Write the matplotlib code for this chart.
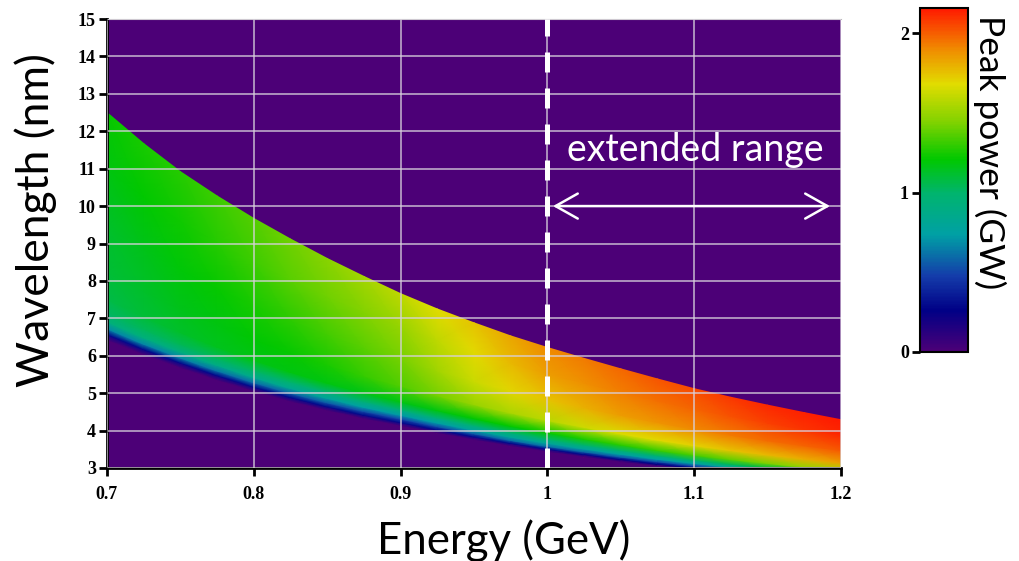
import numpy as np
import matplotlib
matplotlib.use("Agg")
import matplotlib.pyplot as plt
from matplotlib.colors import LinearSegmentedColormap

energy = [0.700, 0.725, 0.750, 0.775, 0.800, 0.825, 0.850, 0.875, 0.900, 0.925, 0.950,
          0.975, 1.000, 1.025, 1.050, 1.075, 1.100, 1.125, 1.150, 1.175, 1.200]
# upper (sharp) edge of the lasing band, nm
lam_top = [12.50, 11.67, 10.92, 10.27, 9.67, 9.12, 8.60, 8.12, 7.66, 7.25, 6.88,
           6.53, 6.22, 5.93, 5.65, 5.38, 5.12, 4.89, 4.68, 4.48, 4.29]
# lower edge where peak power falls to zero, nm
lam_zero = [6.42, 6.03, 5.68, 5.35, 5.05, 4.78, 4.54, 4.32, 4.13, 3.94, 3.76,
            3.59, 3.44, 3.30, 3.17, 3.05, 2.95, 2.86, 2.78, 2.71, 2.65]
# relative position inside the band (0 = lower edge, 1 = upper edge)
band_frac = [0, 0.025, 0.05, 0.08, 0.12, 0.18, 0.3, 0.5, 0.75, 1.0]
# peak power (GW), one row per band_frac, one column per energy
power = [
    [0.00, 0.00, 0.00, 0.00, 0.00, 0.00, 0.00, 0.00, 0.00, 0.00, 0.00,
     0.00, 0.00, 0.00, 0.00, 0.00, 0.00, 0.00, 0.00, 0.00, 0.00],
    [0.30, 0.30, 0.30, 0.30, 0.30, 0.30, 0.30, 0.30, 0.30, 0.30, 0.30,
     0.30, 0.30, 0.29, 0.28, 0.27, 0.27, 0.28, 0.29, 0.30, 0.30],
    [0.68, 0.67, 0.66, 0.63, 0.60, 0.58, 0.55, 0.52, 0.50, 0.53, 0.56,
     0.60, 0.62, 0.58, 0.55, 0.52, 0.52, 0.55, 0.58, 0.60, 0.62],
    [0.92, 0.92, 0.91, 0.88, 0.85, 0.82, 0.78, 0.75, 0.72, 0.74, 0.77,
     0.80, 0.80, 0.78, 0.76, 0.75, 0.76, 0.80, 0.84, 0.88, 0.92],
    [1.02, 1.03, 1.04, 1.03, 1.02, 1.00, 0.98, 0.96, 0.94, 0.95, 0.97,
     0.98, 1.00, 0.99, 0.98, 0.98, 1.00, 1.04, 1.08, 1.12, 1.16],
    [1.07, 1.10, 1.13, 1.15, 1.17, 1.18, 1.18, 1.17, 1.17, 1.18, 1.20,
     1.21, 1.22, 1.25, 1.28, 1.30, 1.33, 1.38, 1.43, 1.49, 1.55],
    [1.10, 1.13, 1.16, 1.18, 1.20, 1.22, 1.25, 1.30, 1.35, 1.42, 1.50,
     1.55, 1.58, 1.63, 1.67, 1.69, 1.71, 1.75, 1.78, 1.81, 1.84],
    [1.13, 1.16, 1.19, 1.22, 1.25, 1.29, 1.33, 1.37, 1.42, 1.52, 1.62,
     1.70, 1.75, 1.80, 1.85, 1.88, 1.90, 1.94, 1.97, 1.99, 2.01],
    [1.18, 1.21, 1.24, 1.28, 1.32, 1.37, 1.41, 1.45, 1.50, 1.60, 1.69,
     1.78, 1.85, 1.89, 1.93, 1.96, 1.99, 2.03, 2.07, 2.10, 2.12],
    [1.22, 1.25, 1.28, 1.32, 1.36, 1.41, 1.46, 1.53, 1.60, 1.68, 1.75,
     1.83, 1.90, 1.94, 1.98, 2.02, 2.05, 2.09, 2.12, 2.14, 2.16],
]
x_ticks = [0.7, 0.8, 0.9, 1.0, 1.1, 1.2]
x_ticklabels = ["0.7", "0.8", "0.9", "1", "1.1", "1.2"]
y_ticks = list(range(3, 16))
cbar_ticks = [0, 1, 2]
pmax = 2.16

cmap = LinearSegmentedColormap.from_list("peak", [
    (0.00, "#4c0077"),
    (0.12, "#000086"),
    (0.22, "#143caa"),
    (0.34, "#00a0a5"),
    (0.46, "#00b46e"),
    (0.56, "#00c800"),
    (0.67, "#82d200"),
    (0.78, "#e1dc00"),
    (0.88, "#f08c00"),
    (1.00, "#ff1900"),
])

E = np.array(energy)
top = np.array(lam_top)
zero = np.array(lam_zero)
f = np.array(band_frac)
X = np.tile(E, (len(f), 1))
Y = zero[None, :] + f[:, None] * (top - zero)[None, :]
Z = np.array(power)

fig = plt.figure(figsize=(10.2, 5.61), dpi=100)
ax = fig.add_axes([107 / 1020, 1 - 468 / 561, 734 / 1020, 449 / 561])
ax.set_facecolor(cmap(0.0))
mesh = ax.pcolormesh(X, Y, Z, shading="gouraud", cmap=cmap, vmin=0, vmax=pmax)
ax.set_xlim(0.7, 1.2)
ax.set_ylim(3, 15)
ax.set_axisbelow(False)
ax.grid(True, color="#d8d0dc", alpha=0.75, lw=1.3)

ax.set_xticks(x_ticks)
ax.set_xticklabels(x_ticklabels)
ax.set_yticks(y_ticks)
tick_font = dict(family="Liberation Serif", weight="bold", size=13)
for lab in ax.get_xticklabels() + ax.get_yticklabels():
    lab.set_fontfamily(tick_font["family"])
    lab.set_fontweight(tick_font["weight"])
    lab.set_fontsize(tick_font["size"])
ax.tick_params(direction="out", length=6, width=2, color="black", pad=2)
ax.tick_params(axis="x", pad=7)
for s in ["left", "bottom"]:
    ax.spines[s].set_linewidth(2)
ax.spines["right"].set_visible(False)
ax.spines["top"].set_color("#bbbbbb")
ax.spines["top"].set_linewidth(0.8)

# dashed divider at 1 GeV
ax.axvline(1.0, color="white", lw=3.6, dashes=(4, 3.2), zorder=4)
ax.annotate("", xy=(1.1925, 10), xytext=(1.0038, 10),
            arrowprops=dict(arrowstyle="<->,head_length=0.8,head_width=0.45",
                            color="white", lw=1.8, mutation_scale=20,
                            shrinkA=0, shrinkB=0), zorder=5)
ax.text(1.1006, 11.5, "extended range", color="white", family="Lato",
        fontsize=27, ha="center", va="center", zorder=5)

fig.text(504 / 1020, 1 - 541 / 561, "Energy (GeV)", family="Lato", fontsize=31.5,
         ha="center", va="center")
fig.text(36 / 1020, 1 - 220 / 561, "Wavelength (nm)", family="Lato", fontsize=32,
         rotation=90, ha="center", va="center")

cax = fig.add_axes([920 / 1020, 1 - 352 / 561, 48 / 1020, 344 / 561])
cb = fig.colorbar(mesh, cax=cax, ticks=cbar_ticks)
cb.ax.yaxis.set_ticks_position("left")
cb.ax.tick_params(direction="out", length=6, width=2, pad=2)
for lab in cb.ax.get_yticklabels():
    lab.set_fontfamily(tick_font["family"])
    lab.set_fontweight(tick_font["weight"])
    lab.set_fontsize(tick_font["size"])
cb.outline.set_linewidth(1.5)
fig.text(990 / 1020, 1 - 152 / 561, "Peak power (GW)", family="Lato", fontsize=25.5,
         rotation=-90, ha="center", va="center")

fig.savefig("out.png", dpi=100)
